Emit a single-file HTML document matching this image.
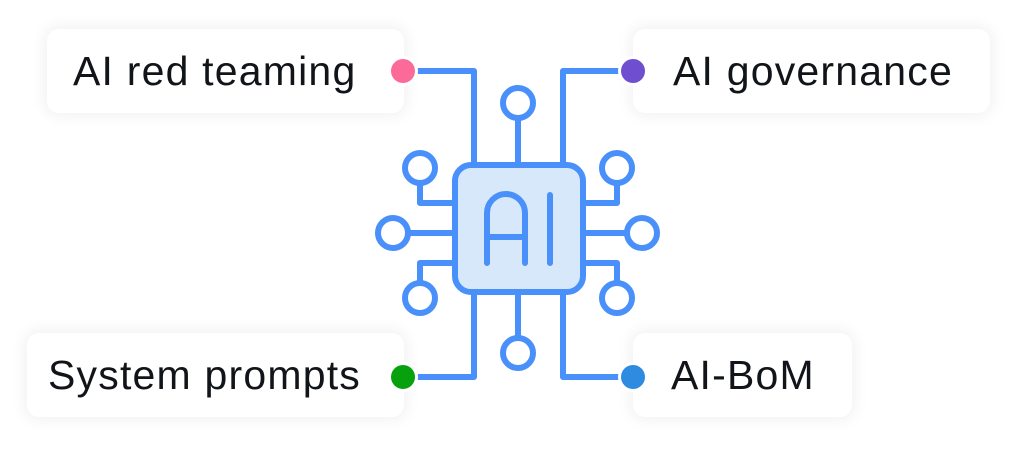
<!DOCTYPE html>
<html><head><style>
body{margin:0;width:1024px;height:453px;background:#fff;position:relative;overflow:hidden;font-family:"Liberation Sans",sans-serif}
.card{position:absolute;background:#fff;border-radius:12px;box-shadow:0 0 14px 4px rgba(0,0,0,0.05);height:84px;line-height:84px;font-size:41px;color:#111418;box-sizing:border-box;letter-spacing:1.2px;white-space:nowrap}
svg{position:absolute;left:0;top:0}
</style></head><body>
<div class="card" style="left:47px;top:29px;width:357px;padding-left:26px">AI red teaming</div>
<div class="card" style="left:633px;top:29px;width:357px;padding-left:40px">AI governance</div>
<div class="card" style="left:27px;top:333px;width:377px;padding-left:21px">System prompts</div>
<div class="card" style="left:633px;top:333px;width:219px;padding-left:38px">AI-BoM</div>
<svg width="1024" height="453" viewBox="0 0 1024 453">
<g fill="none" stroke="#4a90fa" stroke-width="6" stroke-linecap="round" stroke-linejoin="round">
<path d="M410,71 H474 V165"/>
<path d="M626,71 H563 V165"/>
<path d="M410,377 H474 V292"/>
<path d="M626,377 H563 V292"/>
<path d="M518,119 V165"/><circle cx="518" cy="103" r="15"/>
<path d="M518,292 V338"/><circle cx="518" cy="353" r="15"/>
<circle cx="420" cy="168" r="15"/><path d="M420,183 V203 H455"/>
<circle cx="393" cy="233" r="15"/><path d="M408,233 H455"/>
<circle cx="420" cy="298" r="15"/><path d="M420,283 V263 H455"/>
<circle cx="617" cy="168" r="15"/><path d="M617,183 V203 H583"/>
<circle cx="642" cy="233" r="15"/><path d="M627,233 H583"/>
<circle cx="617" cy="298" r="15"/><path d="M617,283 V263 H583"/>
<rect x="455" y="165" width="128" height="127" rx="16" fill="#d6e8fa"/>
<path d="M487,263 V213 A19,19 0 0 1 525,213 V263 M487,237 H525 M550,195 V263"/>
</g>
<circle cx="403" cy="71" r="15" fill="#fff"/><circle cx="403" cy="71" r="12" fill="#fb6a98"/>
<circle cx="633" cy="71" r="15" fill="#fff"/><circle cx="633" cy="71" r="12" fill="#6f4fcf"/>
<circle cx="403" cy="377" r="15" fill="#fff"/><circle cx="403" cy="377" r="12" fill="#07a10d"/>
<circle cx="633" cy="377" r="15" fill="#fff"/><circle cx="633" cy="377" r="12" fill="#2e8be0"/>
</svg>
</body></html>
